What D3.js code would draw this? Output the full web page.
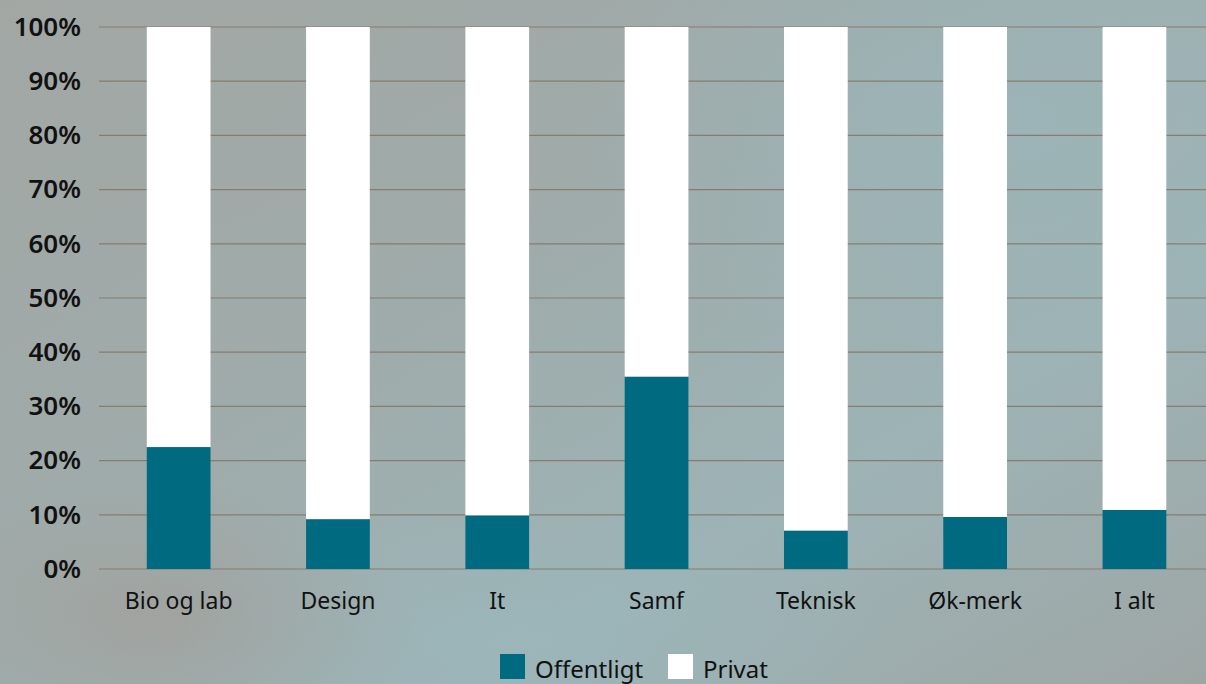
<!DOCTYPE html>
<html>
<head>
<meta charset="utf-8">
<script src="https://cdn.jsdelivr.net/npm/d3@7"></script>
<style>
  html, body { margin: 0; padding: 0; overflow: hidden; }
  svg { display: block; }
</style>
</head>
<body>
<div id="chart"></div>
<script>
var categories = ["Bio og lab", "Design", "It", "Samf", "Teknisk", "Øk-merk", "I alt"];
var offentligt = [22.5, 9.2, 9.9, 35.5, 7.1, 9.6, 10.9];
var privat = offentligt.map(function(d) { return 100 - d; });
var yTicks = [0, 10, 20, 30, 40, 50, 60, 70, 80, 90, 100];
var seriesNames = ["Offentligt", "Privat"];
var seriesColors = ["#006a80", "#ffffff"];

var width = 1206, height = 684;

var svg = d3.select("#chart")
  .append("svg")
  .attr("width", width)
  .attr("height", height);

// background
var defs = svg.append("defs");
var lg = defs.append("linearGradient")
  .attr("id", "bg")
  .attr("x1", "0").attr("y1", "0")
  .attr("x2", "1").attr("y2", "1");
lg.append("stop").attr("offset", "0%").attr("stop-color", "#a2a7a4");
lg.append("stop").attr("offset", "40%").attr("stop-color", "#9fabaa");
lg.append("stop").attr("offset", "70%").attr("stop-color", "#9db3b6");
lg.append("stop").attr("offset", "100%").attr("stop-color", "#9ea6a5");

var rg = defs.append("radialGradient")
  .attr("id", "blob")
  .attr("cx", "0.5").attr("cy", "0.5").attr("r", "0.5");
rg.append("stop").attr("offset", "0%").attr("stop-color", "#9bb6ba").attr("stop-opacity", 0.8);
rg.append("stop").attr("offset", "100%").attr("stop-color", "#9bb6ba").attr("stop-opacity", 0);

var rg2 = defs.append("radialGradient")
  .attr("id", "blob2")
  .attr("cx", "0.5").attr("cy", "0.5").attr("r", "0.5");
rg2.append("stop").attr("offset", "0%").attr("stop-color", "#a29e99").attr("stop-opacity", 0.7);
rg2.append("stop").attr("offset", "100%").attr("stop-color", "#a29e99").attr("stop-opacity", 0);

svg.append("rect")
  .attr("width", width)
  .attr("height", height)
  .attr("fill", "url(#bg)");

svg.append("ellipse")
  .attr("cx", 1000).attr("cy", 120).attr("rx", 420).attr("ry", 260)
  .attr("fill", "url(#blob)");
svg.append("ellipse")
  .attr("cx", 520).attr("cy", 640).attr("rx", 380).attr("ry", 140)
  .attr("fill", "url(#blob)");
svg.append("ellipse")
  .attr("cx", 160).attr("cy", 620).attr("rx", 260).attr("ry", 140)
  .attr("fill", "url(#blob2)");

var margin = {top: 27, left: 99};
var plotBottom = 569;

var x = d3.scaleBand()
  .domain(categories)
  .range([margin.left, margin.left + 7 * 159.3])
  .paddingInner(0.6)
  .paddingOuter(0.3);

var y = d3.scaleLinear()
  .domain([0, 100])
  .range([plotBottom, margin.top]);

// gridlines
svg.append("g")
  .selectAll("line")
  .data(yTicks)
  .enter()
  .append("line")
  .attr("x1", margin.left)
  .attr("x2", width)
  .attr("y1", function(d) { return y(d); })
  .attr("y2", function(d) { return y(d); })
  .attr("stroke", "#867d6f")
  .attr("stroke-width", 1.2);

// y axis labels
var yAxis = d3.axisLeft(y)
  .tickValues(yTicks)
  .tickFormat(function(d) { return d + "%"; })
  .tickSize(0)
  .tickPadding(0);

svg.append("g")
  .attr("transform", "translate(81,0)")
  .call(yAxis)
  .call(function(g) { g.select(".domain").remove(); })
  .selectAll("text")
  .attr("fill", "#111")
  .style("font-family", "'Noto Sans', sans-serif")
  .style("font-size", "26px")
  .style("font-weight", "600");

// stacked bars
var stackData = categories.map(function(c, i) {
  return {cat: c, Offentligt: offentligt[i], Privat: privat[i]};
});
var stack = d3.stack().keys(seriesNames)(stackData);

svg.append("g")
  .selectAll("g")
  .data(stack)
  .enter()
  .append("g")
  .attr("fill", function(d, i) { return seriesColors[i]; })
  .selectAll("rect")
  .data(function(d) { return d; })
  .enter()
  .append("rect")
  .attr("x", function(d) { return x(d.data.cat); })
  .attr("width", x.bandwidth())
  .attr("y", function(d) { return y(d[1]); })
  .attr("height", function(d) { return y(d[0]) - y(d[1]); });

// x axis labels
var xAxis = d3.axisBottom(x).tickSize(0).tickPadding(0);
svg.append("g")
  .attr("transform", "translate(0," + (plotBottom + 24) + ")")
  .call(xAxis)
  .call(function(g) { g.select(".domain").remove(); })
  .selectAll("text")
  .attr("fill", "#111")
  .style("font-family", "'Noto Sans', sans-serif")
  .style("font-size", "23px");

// legend
var legendX = [500, 668];
var legend = svg.append("g");
seriesNames.forEach(function(name, i) {
  legend.append("rect")
    .attr("x", legendX[i])
    .attr("y", 654)
    .attr("width", 25)
    .attr("height", 25)
    .attr("fill", seriesColors[i]);
  legend.append("text")
    .attr("x", legendX[i] + 35)
    .attr("y", 678)
    .attr("fill", "#111")
    .style("font-family", "'Noto Sans', sans-serif")
    .style("font-size", "24px")
    .text(name);
});
</script>
</body>
</html>
